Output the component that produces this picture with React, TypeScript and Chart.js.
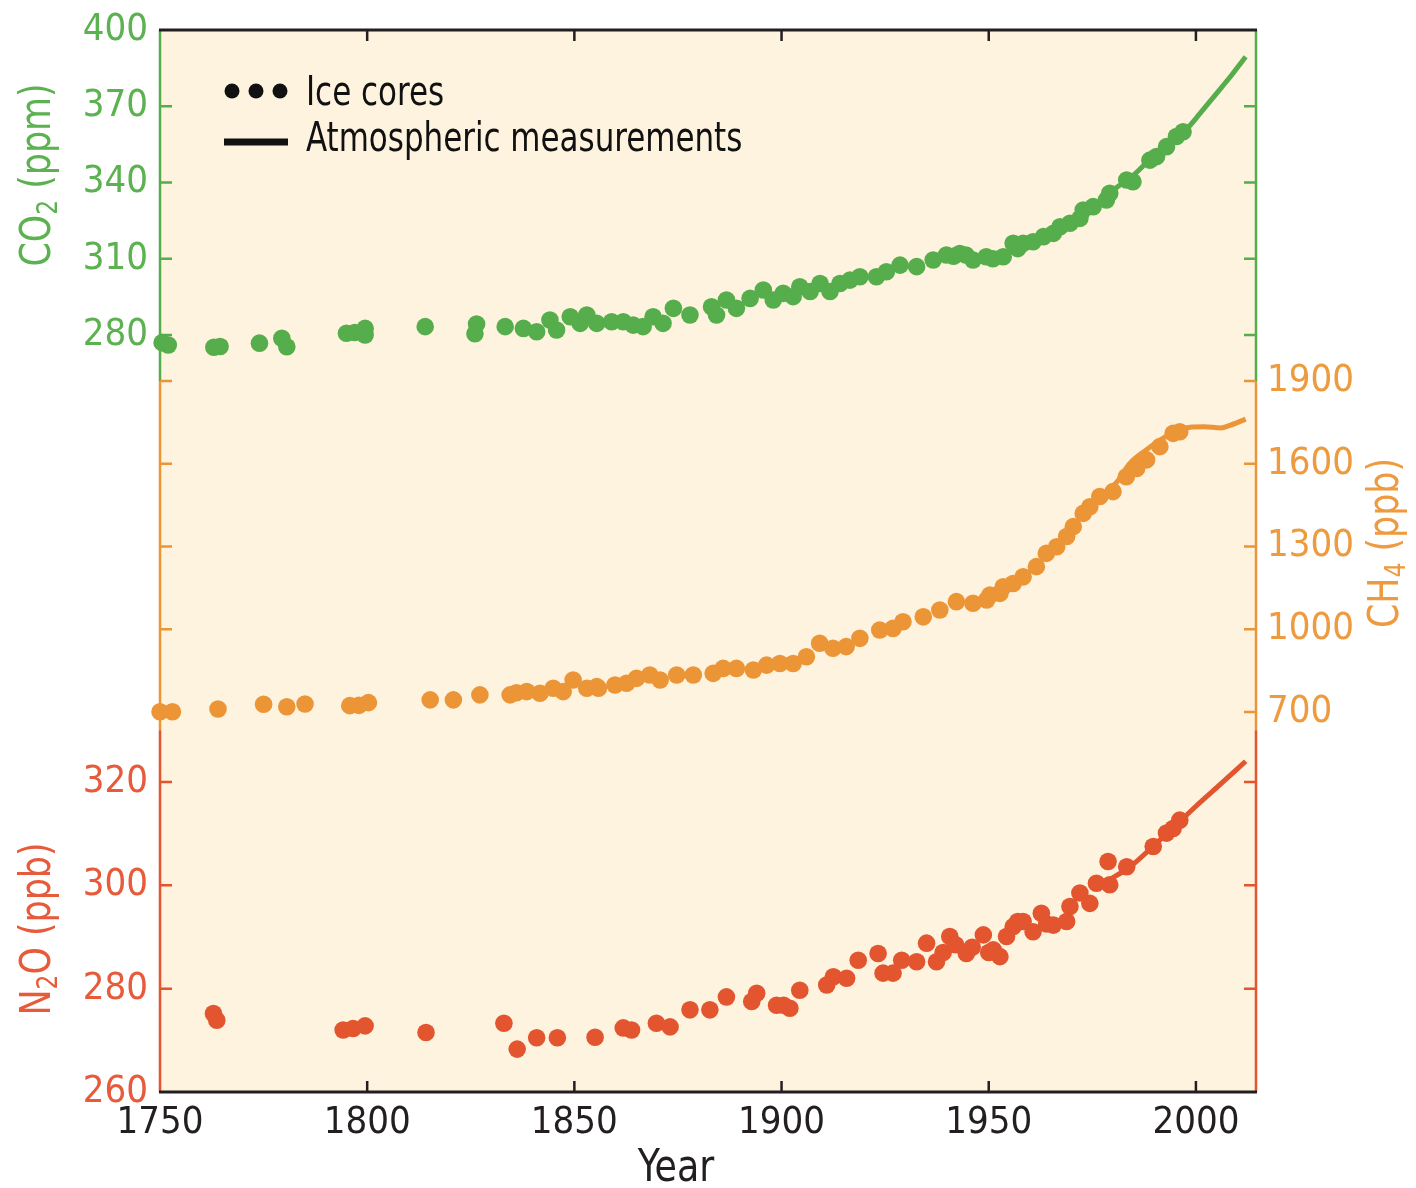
import React, { useEffect, useRef } from "react";
import { Chart, registerables } from "chart.js";

Chart.register(...registerables);

// ---------- tick values ----------
const xTickYears = [1750, 1800, 1850, 1900, 1950, 2000];
const co2TickValues = [280, 310, 340, 370, 400];
const ch4TickValues = [700, 1000, 1300, 1600, 1900];
const n2oTickValues = [260, 280, 300, 320];

// ---------- CO2 (ppm) ----------
const co2IceYears = [1750.5, 1752, 1763, 1764.5, 1774, 1779.4, 1780.6, 1795, 1797, 1799.5, 1799.5, 1814, 1826.4, 1826,
  1833.3, 1837.7, 1840.9, 1844.1, 1845.7, 1849, 1851.4, 1853, 1855.4, 1859, 1861.8, 1864.2, 1866.6, 1869, 1871.4,
  1873.9, 1877.9, 1883.1, 1884.3, 1886.7, 1889.1, 1892.4, 1895.6, 1898, 1900.4, 1902.8, 1904.4, 1906.9, 1909.3,
  1911.7, 1914.1, 1916.5, 1918.9, 1922.9, 1925.3, 1928.6, 1932.6, 1936.6, 1939.8, 1941.5, 1943, 1944.5, 1946.2,
  1949.4, 1951, 1953.5, 1955.9, 1957, 1958.3, 1960.7, 1963.2, 1965.6, 1967.2, 1969.6, 1972, 1972.8, 1975.2, 1978.4,
  1979.2, 1983.3, 1984.8, 1988.9, 1990.5, 1992.9, 1995.3, 1996.9];
const co2IceValues = [277, 276.1, 275.2, 275.5, 276.8, 278.7, 275.4, 280.7, 281, 282.6, 280, 283.3, 284.3, 280.5,
  283.3, 282.6, 281.3, 285.9, 282, 287.2, 284.6, 287.9, 284.6, 285.2, 285.2, 283.9, 283.3, 287.2, 284.6,
  290.5, 287.9, 291.1, 287.9, 293.8, 290.5, 294.4, 297.7, 293.8, 296.4, 295.1, 299, 297.1, 300.3,
  297.1, 300.3, 301.6, 302.9, 302.9, 304.9, 307.5, 306.9, 309.5, 311.5, 311, 312.1, 311.5, 309.5,
  310.8, 310, 310.8, 316.1, 314, 316.1, 316.7, 318.7, 320, 322.6, 324, 325.9, 329.2, 330.5, 333.1,
  335.8, 341, 340.3, 348.8, 350.2, 354.1, 358.1, 360];
const co2AtmYears = [1958, 1965, 1970, 1975, 1980, 1985, 1990, 1995, 1998, 2001, 2005, 2008, 2012];
const co2AtmValues = [315, 319.5, 324.5, 330, 337, 343, 351, 358, 361.5, 367.2, 375.1, 381, 389.5];

// ---------- CH4 (ppb) ----------
const ch4IceYears = [1750, 1753, 1764, 1775, 1780.6, 1785, 1795.8, 1798, 1800.3, 1815.2, 1820.8, 1827.2, 1834.5, 1836,
  1838.5, 1841.7, 1844.9, 1847.3, 1849.7, 1853, 1855.4, 1855.8, 1859.8, 1862.6, 1865, 1868.2, 1870.7, 1874.7, 1878.7,
  1883.5, 1885.9, 1889.1, 1893.2, 1896.4, 1899.6, 1902.8, 1906, 1909.2, 1912.4, 1915.6, 1918.9, 1923.7, 1926.9,
  1929.3, 1934.2, 1938.2, 1942.2, 1946.2, 1949.5, 1950.3, 1952.7, 1953.5, 1955.9, 1958.3, 1961.5, 1963.9, 1966.4,
  1968.8, 1970.4, 1972.8, 1974.4, 1976.8, 1980, 1983.2, 1985.7, 1988.1, 1991.3, 1994.5, 1996.1];
const ch4IceValues = [701, 701, 711, 728, 719, 729, 723, 724, 734, 744, 744, 762, 762, 770,
  774, 768, 786, 774, 816, 786, 792, 786, 798, 804, 822, 834, 816, 834, 834,
  840, 858, 858, 852, 870, 876, 876, 900, 949, 931, 937, 967, 997, 1003,
  1027, 1045, 1070, 1100, 1094, 1106, 1124, 1130, 1154, 1166, 1190, 1227, 1275, 1299,
  1336, 1372, 1420, 1444, 1481, 1499, 1553, 1583, 1614, 1662, 1710, 1716];
const ch4AtmYears = [1978, 1981, 1984, 1988, 1992, 1996, 1999, 2002, 2006, 2008, 2012];
const ch4AtmValues = [1490, 1535, 1600, 1650, 1692, 1722, 1733, 1734, 1730, 1738, 1762];

// ---------- N2O (ppb) ----------
const n2oIceYears = [1762.9, 1763.7, 1794.2, 1796.6, 1799.5, 1814.2, 1833, 1836.2, 1840.9, 1845.9, 1855, 1861.8, 1863.8,
  1869.8, 1873.1, 1877.9, 1882.7, 1886.7, 1892.8, 1894, 1898.8, 1900.5, 1902, 1904.4, 1910.9, 1912.5, 1915.7,
  1918.5, 1923.3, 1924.5, 1926.9, 1929, 1932.6, 1935, 1937.4, 1939, 1940.6, 1942, 1944.6, 1946, 1948.7, 1950,
  1951.1, 1952.7, 1954.3, 1955.9, 1957, 1958.3, 1960.7, 1962.7, 1964, 1965.6, 1968.8, 1969.6, 1972, 1974.4,
  1976, 1978.8, 1979.2, 1983.3, 1989.7, 1992.9, 1994.5, 1996.1];
const n2oIceValues = [275.2, 273.9, 272, 272.3, 272.8, 271.5, 273.3, 268.3, 270.5, 270.5, 270.6, 272.4, 272,
  273.3, 272.6, 275.9, 275.9, 278.4, 277.5, 279.1, 276.8, 276.8, 276.2, 279.7, 280.7, 282.3, 282,
  285.5, 286.8, 283, 283, 285.5, 285.2, 288.8, 285.2, 287, 290.1, 288.5, 286.8, 288, 290.4, 287,
  287.5, 286.2, 290.1, 292, 293, 293, 291, 294.6, 292.5, 292.3, 293, 295.9, 298.5, 296.5,
  300.4, 304.6, 300.1, 303.6, 307.5, 310.1, 311, 312.6];
const n2oAtmYears = [1977, 1980, 1984, 1990, 1995, 2000, 2005, 2012];
const n2oAtmValues = [300, 301.5, 303.5, 307.8, 311.5, 315.3, 318.9, 324];

// ---------- styling ----------
const FONT = "'DejaVu Sans Condensed', 'Liberation Sans Narrow', sans-serif";
const GREEN = "#55ad4b";
const GREEN_TXT = "#5cb150";
const ORANGE = "#ec9537";
const ORANGE_TXT = "#ee9a3e";
const RED = "#e2552f";
const RED_TXT = "#e75a3a";
const DARK = "#231f20";
const CREAM = "#fdf3df";

// axis ranges (so that each gas occupies its own band of the plot)
const X_MIN = 1750, X_MAX = 2014.5;
const CO2_MIN = -17.8, CO2_MAX = 400;
const CH4_MIN = -677.7, CH4_MAX = 3172.5;
const N2O_MIN = 260, N2O_MAX = 465.5;

const n2oToCo2 = (v: number) => CO2_MIN + ((v - N2O_MIN) / (N2O_MAX - N2O_MIN)) * (CO2_MAX - CO2_MIN);

const leftTickList = [
  ...co2TickValues.map((v) => ({ value: v, label: String(v), color: GREEN_TXT })),
  ...n2oTickValues.map((v) => ({ value: n2oToCo2(v), label: String(v), color: RED_TXT })),
].sort((a, b) => a.value - b.value);

const pts = (xs: number[], ys: number[]) => xs.map((x, i) => ({ x, y: ys[i] }));

// draw horizontally condensed text
function condText(ctx: any, text: string, x: number, y: number, size: number, squeeze: number, align: string) {
  ctx.save();
  ctx.font = `${size}px ${FONT}`;
  const w = ctx.measureText(text).width * squeeze;
  let x0 = x;
  if (align === "center") x0 = x - w / 2;
  else if (align === "right") x0 = x - w;
  ctx.translate(x0, y);
  ctx.scale(squeeze, 1);
  ctx.textAlign = "left";
  ctx.fillText(text, 0, 0);
  ctx.restore();
}

const framePlugin = {
  id: "frame",
  beforeDatasetsDraw(chart: any) {
    const { ctx, chartArea: a } = chart;
    ctx.save();
    ctx.fillStyle = CREAM;
    ctx.fillRect(a.left, a.top, a.right - a.left, a.bottom - a.top);
    ctx.restore();
  },
  afterDraw(chart: any) {
    const { ctx, chartArea: a, scales } = chart;
    const sx = scales.x, sc = scales.yCO2, sm = scales.yCH4, sn = scales.yN2O;
    ctx.save();
    // side borders, coloured per band
    const b1 = sm.getPixelForValue(1900);
    const b2 = sn.getPixelForValue(330);
    const segs = [
      [a.top, b1, GREEN],
      [b1, b2, ORANGE],
      [b2, a.bottom, RED],
    ];
    ctx.lineWidth = 2.5;
    for (const [y0, y1, c] of segs as any) {
      ctx.strokeStyle = c;
      for (const x of [a.left, a.right]) {
        ctx.beginPath();
        ctx.moveTo(x, y0);
        ctx.lineTo(x, y1);
        ctx.stroke();
      }
    }
    // y tick marks (mirrored on both sides, pointing inwards)
    const TL = 12;
    const drawY = (scale: any, vals: number[], color: string) => {
      ctx.strokeStyle = color;
      ctx.lineWidth = 2.5;
      for (const v of vals) {
        const y = scale.getPixelForValue(v);
        if (y <= a.top + 1 || y >= a.bottom - 1) continue;
        ctx.beginPath();
        ctx.moveTo(a.left, y);
        ctx.lineTo(a.left + TL, y);
        ctx.moveTo(a.right, y);
        ctx.lineTo(a.right - TL, y);
        ctx.stroke();
      }
    };
    drawY(sc, co2TickValues, GREEN);
    drawY(sm, ch4TickValues, ORANGE);
    drawY(sn, n2oTickValues, RED);
    // top / bottom borders
    ctx.strokeStyle = DARK;
    ctx.lineWidth = 3;
    ctx.beginPath();
    ctx.moveTo(a.left - 1, a.top);
    ctx.lineTo(a.right + 1, a.top);
    ctx.moveTo(a.left - 1, a.bottom);
    ctx.lineTo(a.right + 1, a.bottom);
    ctx.stroke();
    // x tick marks
    ctx.lineWidth = 2.5;
    for (const yr of xTickYears) {
      const x = sx.getPixelForValue(yr);
      if (x <= a.left + 1) continue;
      ctx.beginPath();
      ctx.moveTo(x, a.top);
      ctx.lineTo(x, a.top + 11);
      ctx.moveTo(x, a.bottom);
      ctx.lineTo(x, a.bottom - 11);
      ctx.stroke();
    }

    // legend
    ctx.fillStyle = "#111";
    for (const dx of [72, 96, 120]) {
      ctx.beginPath();
      ctx.arc(a.left + dx, a.top + 61, 7.5, 0, Math.PI * 2);
      ctx.fill();
    }
    ctx.strokeStyle = "#111";
    ctx.lineWidth = 7;
    ctx.beginPath();
    ctx.moveTo(a.left + 64, a.top + 112);
    ctx.lineTo(a.left + 128, a.top + 112);
    ctx.stroke();
    ctx.textBaseline = "alphabetic";
    ctx.fillStyle = "#111";
    condText(ctx, "Ice cores", a.left + 146, a.top + 75, 40, 0.86, "left");
    condText(ctx, "Atmospheric measurements", a.left + 146, a.top + 121, 40, 0.86, "left");

    // axis titles (rotated, with subscripts)
    const rotTitle = (cx: number, cy: number, parts: [string, boolean][], color: string) => {
      ctx.save();
      ctx.translate(cx, cy);
      ctx.rotate(-Math.PI / 2);
      ctx.scale(0.9, 1);
      ctx.fillStyle = color;
      ctx.textBaseline = "middle";
      ctx.textAlign = "left";
      const big = `43px ${FONT}`;
      const small = `29px ${FONT}`;
      let total = 0;
      for (const [t, sub] of parts) {
        ctx.font = sub ? small : big;
        total += ctx.measureText(t).width;
      }
      let x = -total / 2;
      for (const [t, sub] of parts) {
        ctx.font = sub ? small : big;
        ctx.fillText(t, x, sub ? 10 : 0);
        x += ctx.measureText(t).width;
      }
      ctx.restore();
    };
    rotTitle(a.left - 121, a.top + 145, [["CO", false], ["2", true], [" (ppm)", false]], GREEN_TXT);
    rotTitle(a.left - 121, a.top + 899, [["N", false], ["2", true], ["O (ppb)", false]], RED_TXT);
    rotTitle(a.right + 131, a.top + 513, [["CH", false], ["4", true], [" (ppb)", false]], ORANGE_TXT);

    // x axis title
    ctx.fillStyle = DARK;
    ctx.textBaseline = "middle";
    condText(ctx, "Year", a.left + 516, a.bottom + 78, 44, 0.92, "center");
    ctx.restore();
  },
};

export default function App() {
  const ref = useRef<HTMLCanvasElement | null>(null);
  useEffect(() => {
    if (!ref.current) return;
    const tickFont = { family: FONT, size: 38 };
    const noPadY = (s: any, w: number) => {
      s.width = w;
      s.paddingTop = 0;
      s.paddingBottom = 0;
    };
    const chart = new Chart(ref.current, {
      type: "scatter",
      data: {
        datasets: [
          {
            label: "CO2 ice cores",
            data: pts(co2IceYears, co2IceValues),
            yAxisID: "yCO2",
            backgroundColor: GREEN,
            borderWidth: 0,
            pointRadius: 8.8,
            showLine: false,
            clip: false as any,
          },
          {
            label: "CO2 atmospheric",
            data: pts(co2AtmYears, co2AtmValues),
            yAxisID: "yCO2",
            borderColor: GREEN,
            borderWidth: 5,
            pointRadius: 0,
            showLine: true,
            cubicInterpolationMode: "monotone",
          },
          {
            label: "CH4 ice cores",
            data: pts(ch4IceYears, ch4IceValues),
            yAxisID: "yCH4",
            backgroundColor: ORANGE,
            borderWidth: 0,
            pointRadius: 8.8,
            showLine: false,
            clip: false as any,
          },
          {
            label: "CH4 atmospheric",
            data: pts(ch4AtmYears, ch4AtmValues),
            yAxisID: "yCH4",
            borderColor: ORANGE,
            borderWidth: 5,
            pointRadius: 0,
            showLine: true,
            cubicInterpolationMode: "monotone",
          },
          {
            label: "N2O ice cores",
            data: pts(n2oIceYears, n2oIceValues),
            yAxisID: "yN2O",
            backgroundColor: RED,
            borderWidth: 0,
            pointRadius: 8.8,
            showLine: false,
            clip: false as any,
          },
          {
            label: "N2O atmospheric",
            data: pts(n2oAtmYears, n2oAtmValues),
            yAxisID: "yN2O",
            borderColor: RED,
            borderWidth: 5,
            pointRadius: 0,
            showLine: true,
            cubicInterpolationMode: "monotone",
          },
        ],
      },
      options: {
        animation: false,
        responsive: false,
        devicePixelRatio: 1,
        layout: { padding: { top: 30, left: 0, right: 0, bottom: 0 } },
        plugins: { legend: { display: false }, tooltip: { enabled: false } },
        events: [],
        scales: {
          x: {
            type: "linear",
            position: "bottom",
            min: X_MIN,
            max: X_MAX,
            grid: { display: false, drawTicks: false },
            border: { display: false },
            afterBuildTicks: (s: any) => {
              s.ticks = xTickYears.map((v) => ({ value: v }));
            },
            afterFit: (s: any) => {
              s.height = 96;
              s.paddingLeft = 0;
              s.paddingRight = 0;
            },
            ticks: {
              autoSkip: false,
              maxRotation: 0,
              padding: 8,
              color: DARK,
              font: tickFont,
              callback: (v: any) => String(v),
            },
          },
          yCO2: {
            type: "linear",
            position: "left",
            min: CO2_MIN,
            max: CO2_MAX,
            grid: { display: false, drawTicks: false },
            border: { display: false },
            afterBuildTicks: (s: any) => {
              s.ticks = leftTickList.map((t) => ({ value: t.value }));
            },
            afterFit: (s: any) => noPadY(s, 160),
            ticks: {
              autoSkip: false,
              padding: 12,
              font: tickFont,
              color: (c: any) => (leftTickList[c.index] ? leftTickList[c.index].color : GREEN_TXT),
              callback: (_v: any, i: number) => leftTickList[i].label,
            },
          },
          yCH4: {
            type: "linear",
            position: "right",
            min: CH4_MIN,
            max: CH4_MAX,
            grid: { display: false, drawTicks: false },
            border: { display: false },
            afterBuildTicks: (s: any) => {
              s.ticks = ch4TickValues.map((v) => ({ value: v }));
            },
            afterFit: (s: any) => noPadY(s, 160),
            ticks: {
              autoSkip: false,
              padding: 11,
              font: tickFont,
              color: ORANGE_TXT,
              callback: (v: any) => String(v),
            },
          },
          yN2O: {
            type: "linear",
            position: "left",
            display: false,
            min: N2O_MIN,
            max: N2O_MAX,
          },
        },
      },
      plugins: [framePlugin],
    } as any);
    return () => chart.destroy();
  }, []);
  return (
    <div style={{ position: "absolute", left: 0, top: 0, width: 1416, height: 1188, background: "#fff" }}>
      <canvas ref={ref} width={1416} height={1188} style={{ display: "block", width: 1416, height: 1188 }} />
    </div>
  );
}
